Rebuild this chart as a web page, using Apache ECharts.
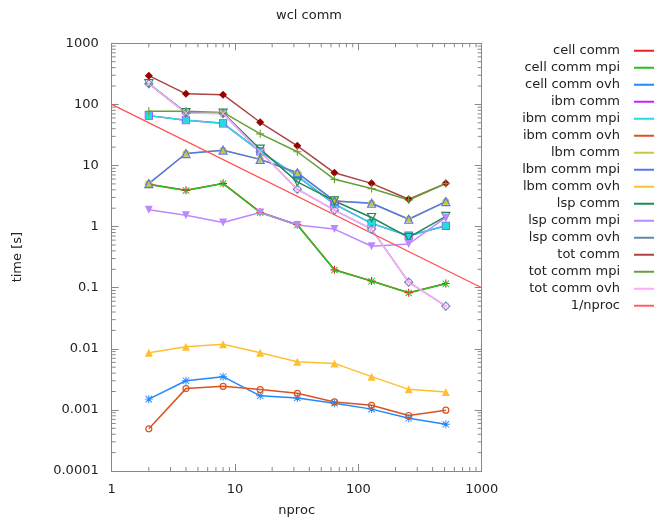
<!DOCTYPE html>
<html><head><meta charset="utf-8">
<script src="https://cdn.jsdelivr.net/npm/echarts@6/dist/echarts.min.js"></script>
<style>html,body{margin:0;padding:0;background:#fff}#c{width:654px;height:522px}</style>
</head><body><div id="c"></div>
<script>
const nproc = [2, 4, 8, 16, 32, 64, 128, 256, 512];
const cellComm    = [4.95, 3.95, 5.1, 1.72, 1.07, 0.196, 0.129, 0.083, 0.117];
const cellCommMpi = [4.9, 3.9, 5.06, 1.7, 1.06, 0.195, 0.128, 0.082, 0.116];
const cellCommOvh = [0.0015, 0.0030, 0.0035, 0.0017, 0.00157, 0.00129, 0.00103, 0.00073, 0.00058];
const ibmComm     = [65.5, 55, 49, 17, 6.7, 2.33, 1.13, 0.71, 1.03];
const ibmCommMpi  = [65.5, 55, 49, 17, 6.7, 2.33, 1.13, 0.71, 1.03];
const ibmCommOvh  = [0.00049, 0.00223, 0.00243, 0.00215, 0.00187, 0.00135, 0.00119, 0.00081, 0.00099];
const lbmComm     = [5.07, 15.7, 17.8, 12.6, 7.6, 2.63, 2.41, 1.32, 2.57];
const lbmCommMpi  = [5.06, 15.7, 17.8, 12.6, 7.6, 2.63, 2.41, 1.32, 2.57];
const lbmCommOvh  = [0.0086, 0.0108, 0.0119, 0.0086, 0.00614, 0.00577, 0.0035, 0.00217, 0.00196];
const lspComm     = [220, 73.5, 72, 18.5, 5.4, 2.63, 1.41, 0.667, 1.47];
const lspCommMpi  = [1.88, 1.54, 1.17, 1.70, 1.06, 0.91, 0.476, 0.519, 1.41];
const lspCommOvh  = [218, 72, 71, 16.8, 4.1, 1.86, 0.91, 0.123, 0.05];
const totComm     = [295, 149, 144, 51, 21, 7.6, 5.1, 2.8, 5.1];
const totCommMpi  = [77, 77, 74, 33, 16.8, 5.94, 4.19, 2.73, 5.06];
const totCommOvh  = [218, 72, 71, 16.8, 4.1, 1.86, 0.91, 0.123, 0.05];
const invX = [1, 1000];
const invY = [100, 0.1];

const xTickLabels = ['1', '10', '100', '1000'];
const yTickLabels = ['0.0001', '0.001', '0.01', '0.1', '1', '10', '100', '1000'];
const xDecades = [1, 10, 100];
const yDecades = [0.0001, 0.001, 0.01, 0.1, 1, 10, 100];
const minorMult = [2, 3, 4, 5, 6, 7, 8, 9];

const FONT = 'DejaVu Sans';
const AX = '#888888';
const TXT = '#222222';

const PLUS = 'path://M4.3,0H5.7V4.3H10V5.7H5.7V10H4.3V5.7H0V4.3H4.3Z';
const CROSS = 'path://M0,1L1,0L10,9L9,10ZM9,0L10,1L1,10L0,9Z';
const STAR = 'path://M4.4,0H5.6V4.4H10V5.6H5.6V10H4.4V5.6H0V4.4H4.4ZM0.6,1.4L1.4,0.6L9.4,8.6L8.6,9.4ZM8.6,0.6L9.4,1.4L1.4,9.4L0.6,8.6Z';

function pairs(ys) { return nproc.map((x, i) => [x, ys[i]]); }

const legendData = [];

function mk(name, ys, color, symbol, size, opts) {
  opts = opts || {};
  const lc = opts.lineColor || color;
  legendData.push({ name: name, icon: 'rect', itemStyle: { color: lc, borderWidth: 0, opacity: 1 } });
  return {
    name: name, type: 'line', data: pairs(ys),
    symbol: symbol, symbolSize: size, symbolRotate: opts.rotate || 0,
    showSymbol: true,
    lineStyle: { color: lc, width: 1.5 },
    itemStyle: opts.hollow
      ? { color: 'rgba(0,0,0,0)', borderColor: color, borderWidth: 1.2 }
      : { color: opts.markColor || color },
    emphasis: { disabled: true },
    z: 3
  };
}

const series = [
  mk('cell comm', cellComm, '#ee2222', PLUS, 8),
  mk('cell comm mpi', cellCommMpi, '#22c422', CROSS, 7),
  mk('cell comm ovh', cellCommOvh, '#2288ff', STAR, 8),
  mk('ibm comm', ibmComm, '#cc22ff', 'rect', 7, { hollow: true }),
  mk('ibm comm mpi', ibmCommMpi, '#22dddd', 'rect', 7),
  mk('ibm comm ovh', ibmCommOvh, '#d85522', 'circle', 6, { hollow: true }),
  mk('lbm comm', lbmComm, '#c8c840', 'circle', 7),
  mk('lbm comm mpi', lbmCommMpi, '#5577ee', 'triangle', 8, { hollow: true }),
  mk('lbm comm ovh', lbmCommOvh, '#ffc030', 'triangle', 8),
  mk('lsp comm', lspComm, '#228855', 'triangle', 8, { hollow: true, rotate: 180 }),
  mk('lsp comm mpi', lspCommMpi, '#bb88ff', 'triangle', 8, { rotate: 180 }),
  mk('lsp comm ovh', lspCommOvh, '#6688aa', 'diamond', 8, { hollow: true }),
  mk('tot comm', totComm, '#aa4444', 'diamond', 8, { markColor: '#990000' }),
  mk('tot comm mpi', totCommMpi, '#66a033', PLUS, 8),
  mk('tot comm ovh', totCommOvh, '#ffaaff', CROSS, 7)
];
series.push({
  name: '1/nproc', type: 'line', data: invX.map((x, i) => [x, invY[i]]),
  symbol: 'none', showSymbol: false,
  lineStyle: { color: '#ff5050', width: 1.2 }, itemStyle: { color: '#ff5050' },
  emphasis: { disabled: true }, z: 3
});
legendData.push({ name: '1/nproc', icon: 'rect', itemStyle: { color: '#ff6060', borderWidth: 0 } });

const xMinor = [];
xDecades.forEach(d => minorMult.forEach(m => xMinor.push(d * m)));
const yMinor = [];
yDecades.forEach(d => minorMult.forEach(m => yMinor.push(d * m)));

const tickStyle = { stroke: AX, lineWidth: 1 };
series.push({
  type: 'custom', name: 'xminor', silent: true, clip: false, z: 5,
  data: xMinor.map(v => [v, 1]),
  renderItem: function (params, api) {
    const v = api.value(0);
    const b = api.coord([v, 0.0001]);
    const t = api.coord([v, 1000]);
    return { type: 'group', children: [
      { type: 'line', shape: { x1: b[0], y1: b[1], x2: b[0], y2: b[1] - 4 }, style: tickStyle },
      { type: 'line', shape: { x1: t[0], y1: t[1], x2: t[0], y2: t[1] + 4 }, style: tickStyle }
    ]};
  }
});
series.push({
  type: 'custom', name: 'yminor', silent: true, clip: false, z: 5,
  data: yMinor.map(v => [1, v]),
  renderItem: function (params, api) {
    const v = api.value(1);
    const l = api.coord([1, v]);
    const r = api.coord([1000, v]);
    return { type: 'group', children: [
      { type: 'line', shape: { x1: l[0], y1: l[1], x2: l[0] + 4, y2: l[1] }, style: tickStyle },
      { type: 'line', shape: { x1: r[0], y1: r[1], x2: r[0] - 4, y2: r[1] }, style: tickStyle }
    ]};
  }
});

function fmtX(v) { const i = Math.round(Math.log10(v)); return xTickLabels[i] !== undefined ? xTickLabels[i] : ''; }
function fmtY(v) { const i = Math.round(Math.log10(v)) + 4; return yTickLabels[i] !== undefined ? yTickLabels[i] : ''; }

const axisCommon = {
  type: 'log', logBase: 10,
  axisLine: { show: true, lineStyle: { color: AX, width: 1 } },
  axisTick: { show: true, inside: true, length: 7, lineStyle: { color: AX } },
  splitLine: { show: false },
  minorTick: { show: false },
  minorSplitLine: { show: false }
};

const chart = echarts.init(document.getElementById('c'), null, { renderer: 'canvas' });
chart.setOption({
  animation: false,
  backgroundColor: '#ffffff',
  grid: { left: 111.7, right: 172.3, top: 43.3, bottom: 48.7, containLabel: false },
  graphic: [{
    type: 'text', x: 309, y: 16,
    style: { text: 'wcl comm', fill: TXT, font: '13px "' + FONT + '"', textAlign: 'center', textVerticalAlign: 'middle' }
  }],
  legend: {
    orient: 'vertical', left: 500, top: 43.7, padding: 0,
    itemWidth: 40, itemHeight: 2, itemGap: 3, align: 'right',
    data: legendData, selectedMode: false,
    textStyle: { fontFamily: FONT, fontSize: 13, color: TXT, lineHeight: 14, width: 120, align: 'right', padding: [0, 9, 0, 0] }
  },
  xAxis: [
    Object.assign({}, axisCommon, {
      min: 1, max: 1000, position: 'bottom', splitNumber: 3,
      axisLabel: { show: true, formatter: fmtX, margin: 12, color: TXT, fontFamily: FONT, fontSize: 13 },
      name: 'nproc', nameLocation: 'middle', nameGap: 33,
      nameTextStyle: { color: TXT, fontFamily: FONT, fontSize: 13 }
    }),
    Object.assign({}, axisCommon, {
      min: 1, max: 1000, position: 'top', splitNumber: 3,
      axisLabel: { show: false }
    })
  ],
  yAxis: [
    Object.assign({}, axisCommon, {
      min: 0.0001, max: 1000, position: 'left', splitNumber: 7,
      axisLabel: { show: true, formatter: fmtY, margin: 13, color: TXT, fontFamily: FONT, fontSize: 13 },
      name: 'time [s]', nameLocation: 'middle', nameGap: 88, nameRotate: 90,
      nameTextStyle: { color: TXT, fontFamily: FONT, fontSize: 13 }
    }),
    Object.assign({}, axisCommon, {
      min: 0.0001, max: 1000, position: 'right', splitNumber: 7,
      axisLabel: { show: false }
    })
  ],
  series: series
});
</script>
</body></html>
